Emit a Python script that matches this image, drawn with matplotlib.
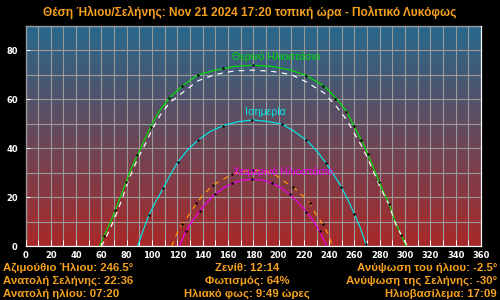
import numpy as np
import matplotlib
matplotlib.use('Agg')
import matplotlib.pyplot as plt

plt.rcParams['font.family'] = ['Liberation Sans', 'DejaVu Sans']

title = 'Θέση Ήλιου/Σελήνης: Nov 21 2024 17:20 τοπική ώρα - Πολιτικό Λυκόφως'

# summer solstice (green)
summer_az = [58.5, 62, 67, 71, 75.5, 79.5, 84, 88.5, 94, 99, 105.5, 113.5, 124, 136.5, 150, 165, 180,
             195, 210, 222, 236, 246, 254, 259.5, 265.5, 270.5, 275, 279.5, 283.5, 287.5, 292.5, 297, 301]
summer_el = [0, 4.2, 9.6, 14.8, 20.8, 26.3, 32.2, 37.1, 43.3, 48.8, 54.9, 60.4, 65.4, 69.9, 71.8, 73.3, 73.8,
             73.3, 71.8, 69.5, 65.4, 60, 54.9, 49.1, 43.3, 37.6, 32, 26.3, 21.5, 17.2, 9.6, 4.6, 0]
summer_mark_az = [62, 71, 79.5, 88.5, 99, 113.5, 124, 136.5, 156, 179.5, 221.5, 235.5, 245, 253, 259.5,
                  265.5, 270.5, 279.5, 287.5, 297]
summer_mark_el = [4.2, 14.8, 26.3, 37.1, 48.8, 60.4, 65.4, 69.9, 72.6, 73.8, 69.5, 65.4, 60, 54.9, 49.1,
                  43.3, 37.6, 26.3, 17.2, 4.6]

# today's sun path (white dashed)
today_az = [60, 63.5, 68, 72, 76.5, 80.5, 85, 89.5, 95, 100, 106.5, 114, 124, 136.5, 150, 165, 180,
            195, 210, 222, 236, 246, 254, 259.5, 265.5, 270.5, 275, 279.5, 283.5, 287.5, 292.5, 297.5, 302]
today_el = [0, 3.5, 8.5, 13.4, 19.5, 25.5, 31.5, 36.5, 42, 47.5, 53.5, 58.5, 62.6, 67.5, 70.0, 71.5, 71.8,
            71.3, 70.0, 67.0, 62.5, 56.8, 51.5, 46.3, 41.0, 35.8, 30.5, 25.0, 20.8, 16.6, 9.2, 4.0, 0]

# equinox (cyan)
equinox_az = [88.5, 93, 97.5, 103, 108.8, 114.5, 120.6, 128, 136.4, 146, 156.2, 168, 180, 191, 202.7,
              212, 222, 230, 237.2, 243.5, 249.6, 255, 260, 265, 269.5]
equinox_el = [0, 6.5, 12.7, 18.3, 23.6, 29.2, 34.5, 39.2, 43.3, 46.8, 49.2, 50.8, 51.5, 50.9, 49.8,
              47, 43.3, 39, 34.1, 29.2, 24.3, 18.8, 13.1, 7, 0]
equinox_mark_az = [97.5, 108.8, 120.6, 136.4, 156.2, 179.4, 202.7, 222, 237.2, 249.6, 260, 269.5]
equinox_mark_el = [12.7, 23.6, 34.5, 43.3, 49.2, 51.6, 49.8, 43.3, 34.1, 24.3, 13.1, 0.8]

# winter solstice (magenta)
winter_az = [121.5, 126.7, 132, 137.8, 143.5, 149.6, 156.5, 163.6, 171, 179.4, 187.5, 195.2, 202,
             208.8, 215.5, 222, 227.5, 232.5, 238]
winter_el = [0, 6.2, 10.5, 14.5, 18, 21.2, 23.8, 25.7, 26.9, 27.3, 26.9, 25.7, 23.8,
             21.2, 17.8, 14.1, 10.3, 6.2, 0]
winter_mark_az = [126.7, 137.8, 149.6, 163.6, 179.4, 195.2, 208.8, 222, 232.5]
winter_mark_el = [6.2, 14.5, 21.2, 25.7, 27.3, 25.7, 21.2, 14.1, 6.2]

# moon path (orange dashed)
moon_az = [115.5, 119, 123.3, 130, 135.1, 140.4, 148.3, 157.5, 164, 172, 180, 188, 195.6, 204.9,
           211.4, 219.3, 224.6, 229.9, 235.1, 240.4, 242.5]
moon_el = [0, 4.5, 8.7, 13.4, 17.5, 20.9, 25, 27.7, 29.5, 30.6, 31.1, 30.7, 29.8, 26.3,
           24.3, 20.5, 17.5, 12.7, 9, 3.9, 0]
moon_mark_az = [123.3, 135.1, 148.3, 163.6, 179.9, 211.4, 224.6, 235.1]
moon_mark_el = [9, 17.5, 25, 29.5, 31.1, 24.3, 17.5, 9]

info_left = ['Αζιμούθιο Ήλιου: 246.5°', 'Ανατολή Σελήνης: 22:36', 'Ανατολή ηλίου: 07:20']
info_mid = ['Ζενίθ: 12:14', 'Φωτισμός: 64%', 'Ηλιακό φως: 9:49 ώρες']
info_right = ['Ανύψωση του ήλιου: -2.5°', 'Ανύψωση της Σελήνης: -30°', 'Ηλιοβασίλεμα: 17:09']

orange = '#f5a01e'
px = 0.72

fig = plt.figure(figsize=(5, 3), dpi=100, facecolor='black')
ax = fig.add_axes([0.051, 0.179, 0.911, 0.736])

# background gradient
top = np.array([0.15, 0.41, 0.55])
bot = np.array([0.66, 0.16, 0.16])
t = np.linspace(0, 1, 256)[:, None]
grad = (top * (1 - t) + bot * t)[:, None, :]
ax.imshow(grad, extent=[0, 360, 0, 90], aspect='auto', zorder=0, interpolation='bilinear')

ax.set_xlim(0, 360)
ax.set_ylim(0, 90)
ax.set_xticks(range(0, 361, 20))
ax.set_xticks(range(10, 360, 20), minor=True)
ax.set_yticks(range(0, 81, 20))
ax.set_yticks(range(10, 91, 20), minor=True)
ax.grid(True, which='both', color='#9a9a9a', lw=1.1 * px, zorder=1)
ax.set_axisbelow(False)

ax.tick_params(which='both', direction='in', colors='white', width=px)
ax.tick_params(axis='x', which='both', length=4, pad=3.5)
ax.tick_params(axis='y', which='major', length=3, pad=5.5)
ax.tick_params(axis='y', which='minor', length=0)
for lab in ax.get_xticklabels() + ax.get_yticklabels():
    lab.set_fontfamily('DejaVu Sans')
    lab.set_fontweight('bold')
    lab.set_fontsize(6)
for s in ax.spines.values():
    s.set_color('white')
    s.set_linewidth(1.2 * px)

ax.plot(summer_az, summer_el, color='#00e000', lw=1.2 * px, zorder=3)
ax.plot(today_az, today_el, color='white', lw=1.2 * px, ls=(0, (4.5, 4.5)), zorder=3)
ax.plot(equinox_az, equinox_el, color='#00e8e8', lw=1.2 * px, zorder=3)
ax.plot(winter_az, winter_el, color='#ee00ee', lw=1.2 * px, zorder=3)
ax.plot(moon_az, moon_el, color='#ff9900', lw=1.2 * px, ls=(0, (4.5, 4.5)), zorder=3)

for maz, mel in [(summer_mark_az, summer_mark_el), (equinox_mark_az, equinox_mark_el),
                 (winter_mark_az, winter_mark_el), (moon_mark_az, moon_mark_el)]:
    ax.plot(maz, mel, 'o', color='black', ms=1.8, mew=0, zorder=4)

ax.text(198.3, 77.2, 'Θερινό Ηλιοστάσιο', color='#00e000', fontsize=7.6, ha='center', va='center', zorder=5)
ax.text(189.7, 54.9, 'Ισημερία', color='#00e8e8', fontsize=7.6, ha='center', va='center', zorder=5)
ax.text(203.3, 30.5, 'Χειμερινό Ηλιοστάσιο', color='#ee00ee', fontsize=7.6, ha='center', va='center', zorder=5)

fig.text(0.5, 0.96, title, color=orange, fontsize=8.6, fontweight='bold', ha='center', va='center')

rows_y = [0.107, 0.063, 0.02]
for i in range(3):
    fig.text(0.006, rows_y[i], info_left[i], color=orange, fontsize=8.2, fontweight='bold',
             ha='left', va='center')
    fig.text(0.494, rows_y[i], info_mid[i], color=orange, fontsize=8.2, fontweight='bold',
             ha='center', va='center')
    fig.text(0.994, rows_y[i], info_right[i], color=orange, fontsize=8.2, fontweight='bold',
             ha='right', va='center')

fig.savefig('out.png', dpi=100, facecolor='black')
